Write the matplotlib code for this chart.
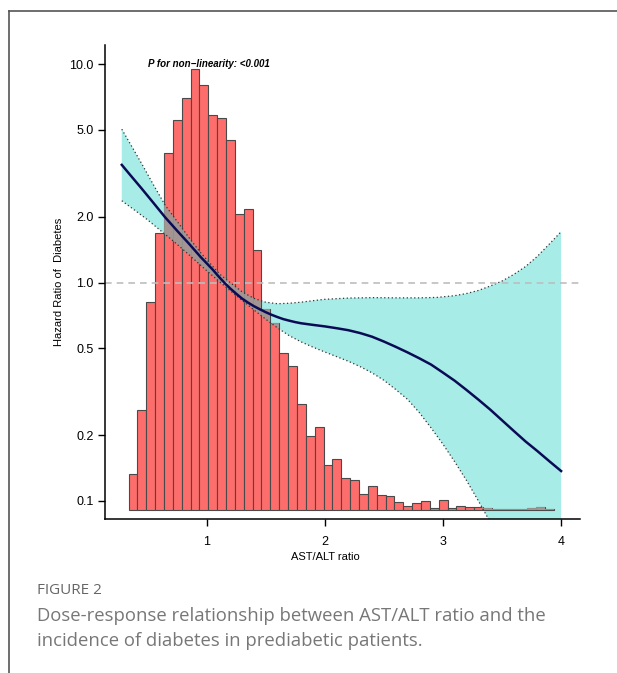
import matplotlib
matplotlib.use("Agg")
import matplotlib.pyplot as plt
from matplotlib.lines import Line2D
from matplotlib.path import Path

# histogram of AST/ALT ratio (relative frequency)
bin_start = 0.34
bin_width = 0.075
freq = [35.5, 99.5, 208, 277, 357, 389.5, 412, 441, 424.5, 395, 392, 370,
        295.5, 300.5, 259.5, 201, 187, 157, 143.5, 106, 74, 83, 44.5, 50.5,
        32, 29.5, 16, 24, 14.5, 13.5, 8, 3.5, 7, 9, 1.5, 9.5, 2, 4, 2.5, 2.5,
        1.5, 1, 1, 1, 1, 1.5, 2.5, 1]

# restricted cubic spline: HR and 95% CI
curve_x = [0.283, 0.35, 0.45, 0.55, 0.65, 0.75, 0.85, 0.95, 1.05, 1.10,
           1.157, 1.20, 1.25, 1.30, 1.35, 1.40, 1.45, 1.50, 1.55, 1.60,
           1.65, 1.70, 1.75, 1.80, 1.90, 2.00, 2.10, 2.20, 2.30, 2.40,
           2.50, 2.60, 2.70, 2.80, 2.90, 3.00, 3.10, 3.20, 3.30, 3.40,
           3.50, 3.60, 3.70, 3.80, 3.90, 4.00]
curve_hr = [3.46, 3.13, 2.70, 2.32, 1.99, 1.73, 1.51, 1.31, 1.15, 1.07,
            0.99, 0.94, 0.89, 0.845, 0.81, 0.78, 0.755, 0.732, 0.712, 0.695,
            0.680, 0.669, 0.659, 0.651, 0.640, 0.630, 0.618, 0.605, 0.587, 0.565,
            0.537, 0.508, 0.479, 0.450, 0.421, 0.387, 0.355, 0.322, 0.291, 0.262,
            0.234, 0.209, 0.187, 0.169, 0.152, 0.137]

upper_x = [0.283, 0.38, 0.465, 0.55, 0.65, 0.75, 0.85, 0.95, 1.05, 1.114,
           1.20, 1.30, 1.40, 1.50, 1.60, 1.70, 1.80, 1.90, 2.00, 2.20,
           2.40, 2.60, 2.80, 2.95, 3.10, 3.20, 3.30, 3.40, 3.50, 3.60,
           3.70, 3.80, 3.90, 4.00]
upper_hr = [5.04, 4.09, 3.40, 2.81, 2.26, 1.91, 1.61, 1.37, 1.19, 1.09,
            1.00, 0.908, 0.847, 0.813, 0.800, 0.804, 0.813, 0.826, 0.838, 0.849,
            0.853, 0.851, 0.851, 0.855, 0.871, 0.891, 0.920, 0.964, 1.016, 1.09,
            1.185, 1.32, 1.50, 1.71]

lower_x = [0.283, 0.40, 0.50, 0.60, 0.70, 0.80, 0.90, 1.00, 1.10, 1.20,
           1.30, 1.40, 1.50, 1.60, 1.70, 1.80, 1.90, 2.00, 2.10, 2.20,
           2.30, 2.40, 2.50, 2.60, 2.70, 2.80, 2.90, 3.00, 3.10, 3.20,
           3.30, 3.40, 3.50, 3.60, 3.80, 4.00]
lower_hr = [2.37, 2.13, 1.94, 1.75, 1.58, 1.42, 1.27, 1.135, 1.02, 0.918,
            0.83, 0.75, 0.68, 0.62, 0.571, 0.535, 0.506, 0.481, 0.458, 0.436,
            0.412, 0.386, 0.357, 0.324, 0.292, 0.254, 0.216, 0.182, 0.151, 0.124,
            0.100, 0.080, 0.065, 0.051, 0.032, 0.020]

y_ticks = [0.1, 0.2, 0.5, 1.0, 2.0, 5.0, 10.0]
x_ticks = [1, 2, 3, 4]

plt.rcParams['font.family'] = ['Liberation Sans', 'DejaVu Sans']

fig = plt.figure(figsize=(6.17, 6.73), dpi=100)
rect = [105 / 617, 1 - 519 / 673, 475 / 617, 474 / 673]
xlim = (0.141, 4.16)
ylim = (0.0826, 12.25)

band_x = upper_x + lower_x[::-1]
band_y = upper_hr + lower_hr[::-1]

# bottom layer: CI ribbon
ax_bg = fig.add_axes(rect)
ax_bg.set_yscale('log')
ax_bg.fill(band_x, band_y, color='#a8ece7', lw=0)
ax_bg.set_xlim(xlim)
ax_bg.set_ylim(ylim)
ax_bg.axis('off')

# middle layer: histogram
ax_h = fig.add_axes(rect)
lefts = [bin_start + i * bin_width for i in range(len(freq))]
bars = ax_h.bar(lefts, freq, width=bin_width, align='edge', color='#fd6d6b',
                edgecolor='#4a4a4a', linewidth=0.8)
ax_h.set_xlim(xlim)
ax_h.set_ylim(-9.5, 464.5)
ax_h.axis('off')
ax_h.patch.set_visible(False)

# top layer: curve, CI lines, axes
ax = fig.add_axes(rect)
ax.patch.set_visible(False)
ax.set_yscale('log')
gray = ax.fill(band_x, band_y, color='#9a9a98', alpha=0.9, lw=0)[0]
bar_path = Path.make_compound_path(
    *[b.get_path().transformed(b.get_patch_transform()) for b in bars])
gray.set_clip_path(bar_path, ax_h.transData)

ax.plot(upper_x, upper_hr, color='#333333', ls=(0, (1, 2)), lw=0.9)
ax.plot(lower_x, lower_hr, color='#333333', ls=(0, (1, 2)), lw=0.9)
ax.axhline(1.0, color='#bdbdbd', ls=(0, (4, 3)), lw=1.2)
ax.plot(curve_x, curve_hr, color='#0b0b55', lw=1.8)

ax.set_xlim(xlim)
ax.set_ylim(ylim)
ax.set_yticks(y_ticks)
ax.set_yticklabels(['%.1f' % v for v in y_ticks])
ax.minorticks_off()
ax.set_xticks(x_ticks)
ax.set_xticklabels([str(v) for v in x_ticks])
ax.tick_params(length=5, width=1, labelsize=9, pad=3)
ax.tick_params(axis='x', pad=7)
ax.spines['top'].set_visible(False)
ax.spines['right'].set_visible(False)
ax.spines['left'].set_linewidth(1.1)
ax.spines['bottom'].set_linewidth(1.1)

ax.set_ylabel('Hazard Ratio of  Diabetes', fontsize=8)
ax.yaxis.set_label_coords(-0.086, 0.5)
ax.set_xlabel('AST/ALT ratio', fontsize=8)
ax.xaxis.set_label_coords((325 - 105) / 475, -33 / 474)

ax.text(0.0905, 0.96, 'P for non\u2212linearity: <0.001', transform=ax.transAxes,
        ha='left', va='center', fontsize=7, fontweight='bold', style='italic')

# page frame
fig.add_artist(Line2D([9 / 617, 1], [1 - 11 / 673] * 2, transform=fig.transFigure,
                      color='#555555', lw=1.2))
fig.add_artist(Line2D([9 / 617] * 2, [0, 1 - 11 / 673], transform=fig.transFigure,
                      color='#555555', lw=1.2))

# caption
cap_font = ['Open Sans', 'DejaVu Sans']
fig.text(37 / 617, 1 - 590 / 673, 'FIGURE 2', family=cap_font,
         fontsize=11, color='#666666', va='center', ha='left')
fig.text(37 / 617, 1 - 616 / 673,
         'Dose-response relationship between AST/ALT ratio and the',
         family=cap_font, fontsize=13.3, color='#777777',
         va='center', ha='left')
fig.text(37 / 617, 1 - 641 / 673,
         'incidence of diabetes in prediabetic patients.',
         family=cap_font, fontsize=13.3, color='#777777',
         va='center', ha='left')

fig.savefig('out.png', dpi=100)
